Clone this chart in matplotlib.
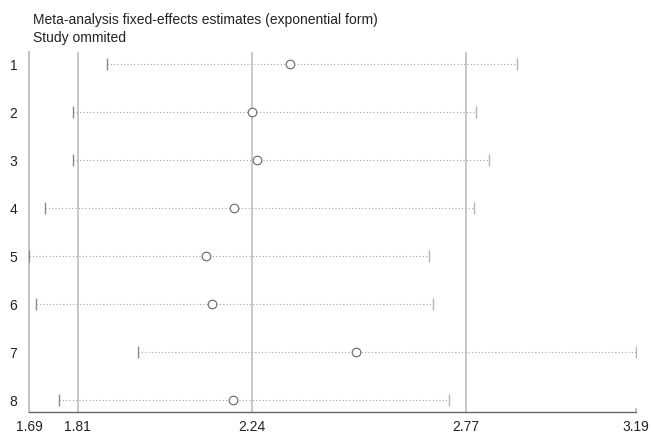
import numpy as np
import matplotlib
matplotlib.use("Agg")
import matplotlib.pyplot as plt

plt.rcParams['font.family'] = ['Liberation Sans', 'DejaVu Sans']

# study omitted -> estimate and 95% CI (exponential form)
studies = ["1", "2", "3", "4", "5", "6", "7", "8"]
estimate = [2.335, 2.242, 2.254, 2.197, 2.127, 2.142, 2.498, 2.193]
lower = [1.883, 1.798, 1.798, 1.730, 1.690, 1.707, 1.959, 1.763]
upper = [2.896, 2.795, 2.827, 2.790, 2.678, 2.689, 3.190, 2.729]

# overall fixed-effects estimate with CI, and axis range
ref_lines = [1.81, 2.24, 2.77]
xticks = [1.69, 1.81, 2.24, 2.77, 3.19]

fig = plt.figure(figsize=(6.54, 4.35), dpi=100)
ax = fig.add_axes([29 / 654, 1 - 413 / 435, (636 - 29) / 654, (413 - 53) / 435])

ypos = np.arange(1, len(studies) + 1)

for x in ref_lines:
    ax.axvline(x, color='#c4c4c4', lw=1.3, zorder=1)

# dotted CI lines
ax.hlines(ypos, lower, upper, colors='#a5a5a5', linestyles=(0, (1, 2)), lw=0.8, zorder=2)
# end caps
ax.plot(lower, ypos, ls='none', marker='|', ms=8, mew=1.0, color='#8a8a8a', zorder=3)
ax.plot(upper, ypos, ls='none', marker='|', ms=8, mew=1.0, color='#b5b5b5', zorder=3)
# point estimates
ax.plot(estimate, ypos, ls='none', marker='o', ms=6.2, mfc='white', mec='#666666',
        mew=0.8, zorder=4)

ax.set_xlim(xticks[0], xticks[-1])
ax.set_ylim(len(studies) + 0.25, 0.75)

ax.set_xticks(xticks)
ax.set_xticklabels([f"{t:.2f}" for t in xticks], fontsize=10, color='#222222')
ax.set_yticks(ypos)
ax.set_yticklabels(studies, fontsize=10, color='#222222')
ax.tick_params(axis='x', length=0, pad=5)
ax.tick_params(axis='y', length=0, pad=8.5)

for s in ['top', 'right']:
    ax.spines[s].set_visible(False)
ax.spines['left'].set_color('#bdbdbd')
ax.spines['left'].set_linewidth(1.3)
ax.spines['bottom'].set_color('#666666')
ax.spines['bottom'].set_linewidth(1.0)

# small end tick at the right of the axis
ax.plot([xticks[-1], xticks[-1]], [len(studies) + 0.25, len(studies) + 0.18],
        color='#bdbdbd', lw=1.3, clip_on=False)

fig.text(33 / 654, 1 - 20 / 435, "Meta-analysis fixed-effects estimates (exponential form)",
         fontsize=10, va='center', ha='left', color='#222222')
fig.text(33 / 654, 1 - 38 / 435, "Study ommited",
         fontsize=10, va='center', ha='left', color='#222222')

fig.savefig("out.png", dpi=100, facecolor='white')
